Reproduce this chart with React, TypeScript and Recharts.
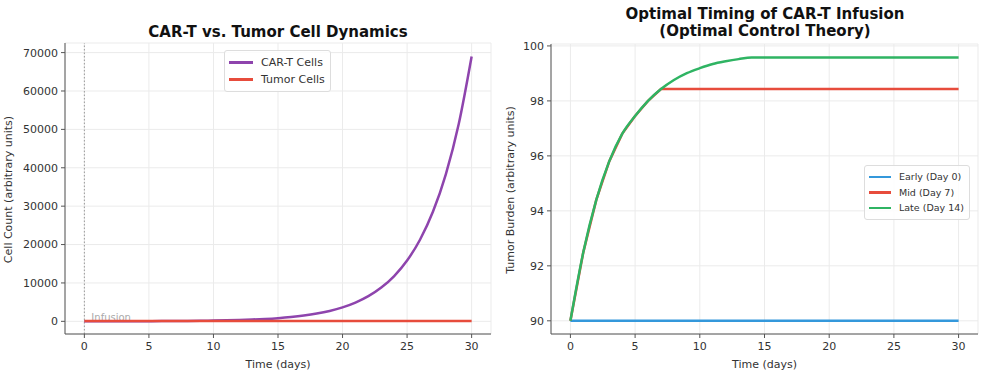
import { LineChart, Line, XAxis, YAxis, CartesianGrid, ReferenceLine } from 'recharts'

// time axis (days)
const days = [0, 1, 2, 3, 4, 5, 6, 7, 8, 9, 10, 11, 12, 13, 14, 15, 16, 17, 18, 19, 20, 21, 22, 23, 24, 25, 26, 27, 28, 29, 30]

// left panel
const carTCells = [10, 13, 18, 24, 33, 44, 59, 79, 106, 143, 191, 257, 345, 463, 621, 834, 1120, 1503, 2017, 2708, 3635, 4880, 6550, 8790, 11800, 15840, 21260, 28530, 38300, 51400, 69000]
const tumorCells = [90, 91, 92, 93, 94, 95, 95, 96, 96, 97, 97, 97, 98, 98, 98, 98, 99, 99, 99, 99, 99, 99, 99, 99, 99, 99, 99, 99, 99, 99, 99]
const cellTicks = [0, 10000, 20000, 30000, 40000, 50000, 60000, 70000]

// right panel
const earlyDay0 = [90, 90, 90, 90, 90, 90, 90, 90, 90, 90, 90, 90, 90, 90, 90, 90, 90, 90, 90, 90, 90, 90, 90, 90, 90, 90, 90, 90, 90, 90, 90]
const midDay7 = [90, 92.5, 94.4, 95.8, 96.8, 97.45, 98.0, 98.43, 98.43, 98.43, 98.43, 98.43, 98.43, 98.43, 98.43, 98.43, 98.43, 98.43, 98.43, 98.43, 98.43, 98.43, 98.43, 98.43, 98.43, 98.43, 98.43, 98.43, 98.43, 98.43, 98.43]
const lateDay14 = [90, 92.5, 94.4, 95.8, 96.8, 97.45, 98.0, 98.43, 98.76, 99.01, 99.19, 99.34, 99.44, 99.52, 99.58, 99.58, 99.58, 99.58, 99.58, 99.58, 99.58, 99.58, 99.58, 99.58, 99.58, 99.58, 99.58, 99.58, 99.58, 99.58, 99.58]
const burdenTicks = [90, 92, 94, 96, 98, 100]

const dayTicks = [0, 5, 10, 15, 20, 25, 30]

const leftSeries = [
  { key: 'cart', name: 'CAR-T Cells', color: '#8e44ad' },
  { key: 'tumor', name: 'Tumor Cells', color: '#e74c3c' },
]
const rightSeries = [
  { key: 'early', name: 'Early (Day 0)', color: '#3498db' },
  { key: 'mid', name: 'Mid (Day 7)', color: '#e74c3c' },
  { key: 'late', name: 'Late (Day 14)', color: '#2fb463' },
]

const leftData = days.map((d, i) => ({ day: d, cart: carTCells[i], tumor: tumorCells[i] }))
const rightData = days.map((d, i) => ({ day: d, early: earlyDay0[i], mid: midDay7[i], late: lateDay14[i] }))

const FONT = '"DejaVu Sans", sans-serif'
const tick = { fontSize: 11, fill: '#333' }
const axisStroke = '#555'

function YLabel({ viewBox, value, dx }: any) {
  const cx = viewBox.x + dx
  const cy = viewBox.y + viewBox.height / 2 + 1
  return (
    <text x={cx} y={cy} transform={`rotate(-90 ${cx} ${cy})`} textAnchor="middle" dominantBaseline="central" fontSize={11} fill="#333">
      {value}
    </text>
  )
}

function XLabel({ viewBox, value }: any) {
  const cx = viewBox.x + viewBox.width / 2
  const cy = viewBox.y + 30
  return (
    <text x={cx} y={cy} textAnchor="middle" dominantBaseline="central" fontSize={11} fill="#333">
      {value}
    </text>
  )
}

function InfusionLabel({ viewBox }: any) {
  return (
    <text x={viewBox.x + 7} y={viewBox.y + viewBox.height - 17} dominantBaseline="central" fontSize={10} fill="#aaa">
      Infusion
    </text>
  )
}

function LegendBox({ items, left, top, fontSize, rowH, lineW }: any) {
  return (
    <div
      style={{
        position: 'absolute',
        left,
        top,
        padding: '3px 5px 3px 4px',
        border: '1px solid #ddd',
        borderRadius: 3,
        background: 'rgba(255,255,255,0.85)',
        fontSize,
        color: '#333',
      }}
    >
      {items.map((s: any) => (
        <div key={s.key} style={{ display: 'flex', alignItems: 'center', height: rowH }}>
          <div style={{ width: lineW, height: 2.5, background: s.color, marginRight: 8 }} />
          <span>{s.name}</span>
        </div>
      ))}
    </div>
  )
}

export default function App() {
  return (
    <div style={{ position: 'absolute', left: 0, top: 0, width: 994, height: 378, background: '#fff', fontFamily: FONT }}>
      {/* left: CAR-T vs tumor */}
      <div style={{ position: 'absolute', left: 0, top: 0 }}>
        <LineChart width={497} height={378} data={leftData} margin={{ top: 43, right: 6, bottom: 0, left: 0 }}>
          <CartesianGrid stroke="#ebebeb" />
          <XAxis
            dataKey="day"
            type="number"
            domain={[-1.5, 31.5]}
            ticks={dayTicks}
            tick={tick}
            tickSize={4}
            tickMargin={4}
            stroke={axisStroke}
            height={44}
            label={<XLabel value="Time (days)" />}
          />
          <YAxis
            type="number"
            domain={[-3300, 72500]}
            ticks={cellTicks}
            tick={tick}
            tickSize={4}
            tickMargin={3}
            stroke={axisStroke}
            width={65}
            label={<YLabel value="Cell Count (arbitrary units)" dx={8} />}
          />
          <ReferenceLine x={0} stroke="#999" strokeDasharray="1.5 2" label={<InfusionLabel />} />
          {leftSeries.map((s) => (
            <Line key={s.key} type="monotone" dataKey={s.key} name={s.name} stroke={s.color} strokeWidth={2.5} dot={false} isAnimationActive={false} />
          ))}
        </LineChart>
        <div style={{ position: 'absolute', left: 0, width: 556, top: 23, lineHeight: '18px', textAlign: 'center', fontSize: 15, fontWeight: 'bold', color: '#111' }}>
          CAR-T vs. Tumor Cell Dynamics
        </div>
        <LegendBox items={leftSeries} left={224} top={50} fontSize={11} rowH={17} lineW={24} />
      </div>

      {/* right: infusion timing */}
      <div style={{ position: 'absolute', left: 497, top: 0 }}>
        <LineChart width={497} height={378} data={rightData} margin={{ top: 44, right: 16, bottom: 0, left: 0 }}>
          <CartesianGrid stroke="#ebebeb" />
          <XAxis
            dataKey="day"
            type="number"
            domain={[-1.5, 31.5]}
            ticks={dayTicks}
            tick={tick}
            tickSize={4}
            tickMargin={4}
            stroke={axisStroke}
            height={44}
            label={<XLabel value="Time (days)" />}
          />
          <YAxis
            type="number"
            domain={[89.52, 100.07]}
            ticks={burdenTicks}
            tick={tick}
            tickSize={4}
            tickMargin={3}
            stroke={axisStroke}
            width={54}
            label={<YLabel value="Tumor Burden (arbitrary units)" dx={13} />}
          />
          {rightSeries.map((s) => (
            <Line
              key={s.key}
              type={s.key === 'mid' ? 'linear' : 'monotone'}
              dataKey={s.key}
              name={s.name}
              stroke={s.color}
              strokeWidth={2.5}
              dot={false}
              isAnimationActive={false}
            />
          ))}
        </LineChart>
        <div style={{ position: 'absolute', left: 0, width: 536, top: 6, textAlign: 'center', fontSize: 15, fontWeight: 'bold', color: '#111', lineHeight: '17px' }}>
          Optimal Timing of CAR-T Infusion
          <br />
          (Optimal Control Theory)
        </div>
        <LegendBox items={rightSeries} left={367} top={165} fontSize={9.5} rowH={15.5} lineW={22} />
      </div>
    </div>
  )
}
